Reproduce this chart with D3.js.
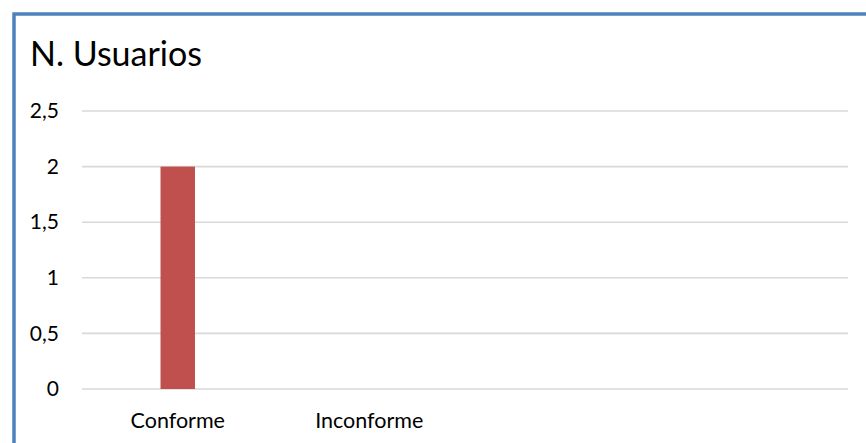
<!DOCTYPE html>
<html>
<head>
<meta charset="utf-8">
<script src="https://cdn.jsdelivr.net/npm/d3@7"></script>
<style>
  html, body { margin: 0; padding: 0; background: #fff; }
  svg { display: block; }
  text { font-family: Lato, "Open Sans", sans-serif; fill: #000; }
</style>
</head>
<body>
<svg id="chart" width="866" height="443"></svg>
<script>
// Survey result: number of users per answer
const categories = ["Conforme", "Inconforme", "", ""];
const usuarios = [2, 0, null, null];
const yTicks = [0, 0.5, 1, 1.5, 2, 2.5];
const title = "N. Usuarios";

const svg = d3.select("#chart");
const W = 866, H = 443;
const plot = { left: 82, right: 848, top: 111, bottom: 389 };

// chart frame (left and top edges fall inside the window)
svg.append("path")
  .attr("d", `M14,${H + 5} L14,14 L${W + 5},14`)
  .attr("fill", "none")
  .attr("stroke", "#4F81BD")
  .attr("stroke-width", 3.5);

svg.append("text")
  .attr("x", 30)
  .attr("y", 66)
  .attr("font-size", 34)
  .text(title);

const x = d3.scaleBand()
  .domain(categories.map((c, i) => i))
  .range([plot.left, plot.right])
  .paddingInner(0.82)
  .paddingOuter(0.41);

const y = d3.scaleLinear()
  .domain([0, 2.5])
  .range([plot.bottom, plot.top]);

const fmt = d => String(d).replace(".", ",");

// horizontal gridlines
svg.append("g")
  .selectAll("line")
  .data(yTicks)
  .join("line")
  .attr("x1", plot.left)
  .attr("x2", plot.right)
  .attr("y1", d => y(d))
  .attr("y2", d => y(d))
  .attr("stroke", "#D9D9D9")
  .attr("stroke-width", 1.6);

// value axis labels
const yAxis = d3.axisLeft(y).tickValues(yTicks).tickFormat(fmt).tickSize(0).tickPadding(0);
svg.append("g")
  .attr("transform", `translate(${plot.left - 23},0)`)
  .call(yAxis)
  .call(g => g.select(".domain").remove())
  .call(g => g.selectAll("text")
    .attr("font-family", "Lato, 'Open Sans', sans-serif")
    .attr("font-size", 21)
    .attr("fill", "#000"));

// bars
svg.append("g")
  .selectAll("rect")
  .data(usuarios.map((v, i) => ({ i, v })).filter(d => d.v))
  .join("rect")
  .attr("x", d => x(d.i))
  .attr("width", x.bandwidth())
  .attr("y", d => y(d.v))
  .attr("height", d => y(0) - y(d.v))
  .attr("fill", "#C0504D");

// category labels
const xAxis = d3.axisBottom(x).tickFormat(i => categories[i]).tickSize(0).tickPadding(0);
svg.append("g")
  .attr("transform", `translate(0,${plot.bottom + 24})`)
  .call(xAxis)
  .call(g => g.select(".domain").remove())
  .call(g => g.selectAll("text")
    .attr("font-family", "Lato, 'Open Sans', sans-serif")
    .attr("font-size", 21.5)
    .attr("fill", "#000"));
</script>
</body>
</html>
